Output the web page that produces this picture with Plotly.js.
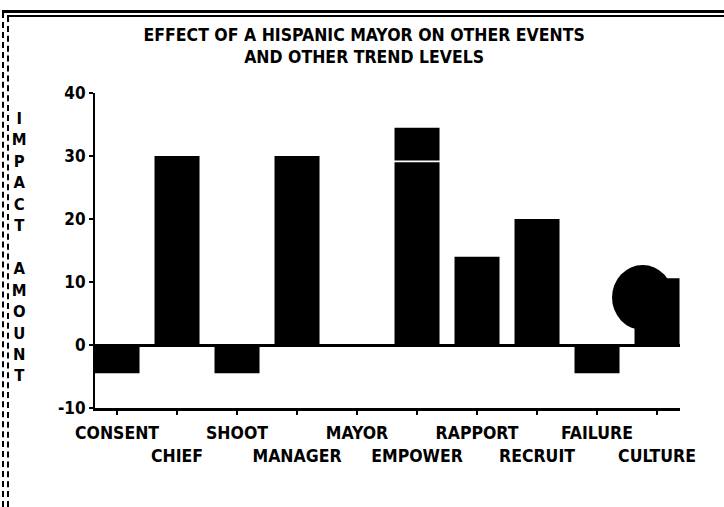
<!DOCTYPE html>
<html><head><meta charset="utf-8">
<script src="https://cdn.plot.ly/plotly-3.0.1.min.js"></script>
<style>
body{margin:0;background:#fff;overflow:hidden}
#chart{width:724px;height:507px;position:absolute;left:0;top:0}
.fr{position:absolute;background:#000}
.dv{position:absolute;border-left-style:dashed;border-left-color:#000}
#chart svg text{font-stretch:condensed !important}
</style>
</head><body>
<div id="chart"></div>
<div class="fr" style="left:2px;top:10px;width:722px;height:3px"></div>
<div class="fr" style="left:7px;top:15px;width:717px;height:2px"></div>
<div class="dv" style="left:2px;top:12px;height:495px;border-left-width:2px"></div>
<div class="dv" style="left:7px;top:16px;height:491px;border-left-width:2px"></div>
<script>
const categories = ['CONSENT','CHIEF','SHOOT','MANAGER','MAYOR','EMPOWER','RAPPORT','RECRUIT','FAILURE','CULTURE'];
const impact = [-4.5, 30, -4.5, 30, 0, 29, 14, 20, -4.5, 10.6];
const empowerTopCategory = ['EMPOWER'];
const empowerTopBase = [29.3];
const empowerTopValue = [5.2];
const yTickValues = [-10, 0, 10, 20, 30, 40];
const yTickLabels = ['-10', '0', '10', '20', '30', '40'];
const xTickLabels = categories.map((c, i) => (i % 2 ? '<br>' + c : c));
const titleText = 'EFFECT OF A HISPANIC MAYOR ON OTHER EVENTS<br>AND OTHER TREND LEVELS';
const yLabel = 'IMPACT AMOUNT';

const FONT = '"DejaVu Sans", sans-serif';

const traces = [
  {type: 'bar', x: categories, y: impact, marker: {color: '#000', line: {width: 0}}, width: 0.75, hoverinfo: 'skip'},
  {type: 'bar', x: empowerTopCategory, y: empowerTopValue, base: empowerTopBase, marker: {color: '#000', line: {width: 0}}, width: 0.75, hoverinfo: 'skip'}
];

const yLetters = yLabel.split('').map(ch => ch === ' ' ? '' : ch).join('<br>');

const layout = {
  width: 724, height: 507,
  margin: {l: 95, r: 44, t: 93, b: 99},
  paper_bgcolor: '#fff', plot_bgcolor: '#fff',
  showlegend: false,
  barmode: 'overlay',
  font: {family: FONT, color: '#000', size: 17, weight: 'bold'},
  title: {text: titleText, x: 0.503, xanchor: 'center', y: 0.92, yanchor: 'top',
          font: {family: FONT, size: 17.5, weight: 'bold', color: '#000'}},
  xaxis: {
    type: 'category', categoryorder: 'array', categoryarray: categories,
    range: [-0.367, 9.383],
    tickmode: 'array', tickvals: categories, ticktext: xTickLabels, tickangle: 0,
    ticks: 'outside', ticklen: 4, tickwidth: 2, tickcolor: '#000',
    ticklabelstandoff: 3,
    showline: true, linecolor: '#000', linewidth: 3,
    showgrid: false, zeroline: false,
    tickfont: {family: FONT, size: 17.5, weight: 'bold', color: '#000'}
  },
  yaxis: {
    range: [-10, 40],
    tickmode: 'array', tickvals: yTickValues, ticktext: yTickLabels,
    ticks: 'outside', ticklen: 4, tickwidth: 2, tickcolor: '#000',
    showline: true, linecolor: '#000', linewidth: 2,
    showgrid: false, zeroline: true, zerolinecolor: '#000', zerolinewidth: 3,
    tickfont: {family: FONT, size: 17, weight: 'bold', color: '#000'}
  },
  shapes: [
    {type: 'circle', xref: 'x', yref: 'y', x0: 8.25, x1: 9.27, y0: 2.4, y1: 12.7,
     fillcolor: '#000', line: {width: 0}, layer: 'above'}
  ],
  annotations: [
    {text: yLetters, xref: 'paper', yref: 'paper', x: -0.13, y: 0.51, xanchor: 'center', yanchor: 'middle',
     showarrow: false, font: {family: FONT, size: 16.5, weight: 'bold', color: '#000'}}
  ]
};

Plotly.newPlot('chart', traces, layout, {displayModeBar: false, staticPlot: true});
</script>
</body></html>
